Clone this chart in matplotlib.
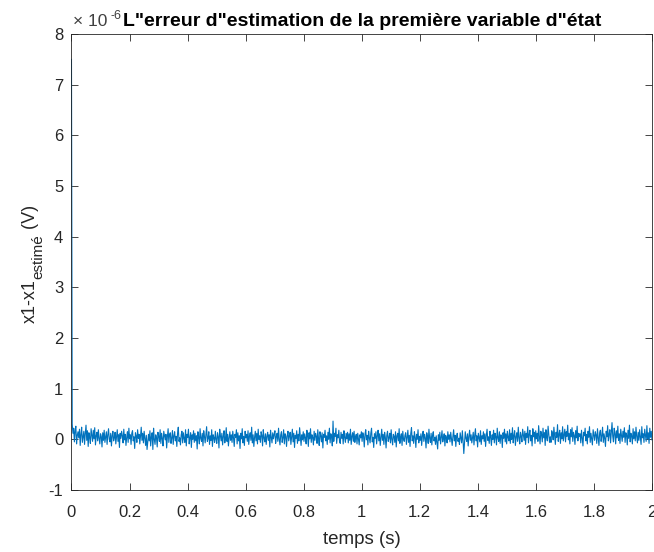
import numpy as np
import matplotlib
matplotlib.use('Agg')
import matplotlib.pyplot as plt
from matplotlib.ticker import FuncFormatter

# estimation error samples, in units of 1e-8 V (t from 0 to 2 s)
err_1e8 = [
    750, 30, 12, 22, -5, 18, 26, -9, 8, 15, 3, 20, -12, 10, 24, -6, 5, 16, -10, 12,
    28, -2, 17, -14, 13, 4, -8, 21, 9, -4, 18, 1, 23, -11, 7, 14, -3, 19, 2, -9,
    11, 6, -15, 13, -2, 18, -6, 4, 15, -10, 9, 21, 0, -5, 12, -13, 7, 16, -3, 3,
    14, -9, 6, 19, -4, 9, -16, 12, 2, 16, 7, -7, 20, -1, 10, -12, 4, 15, -6, 22,
    1, 9, -10, 12, 17, -3, 5, -18, 13, 7, -6, 19, 2, 10, -9, 6, 24, -2, 12, -7,
    16, 3, -12, 8, -20, -6, 10, -3, 17, -13, 5, 13, -20, 22, 0, -10, 9, 3, -15, 14,
    6, -4, 19, -8, 12, 2, -13, 16, 7, -1, 10, -17, 5, 21, -6, 9, 13, -8, 3, 17,
    -10, 7, 15, -3, 6, -14, 12, 24, -4, 3, -11, 9, 16, -7, 13, 2, -6, 19, -13, 10,
    4, 20, -9, 3, 13, -16, 9, 0, 17, -6, 12, -3, 7, -19, 15, 4, -9, 21, 2, -4,
    12, -13, 17, 6, -7, 10, 25, -4, 2, 15, -10, 7, -2, 19, -14, 9, 3, -6, 16, 0,
    -8, 13, 5, -17, 20, 7, -3, 12, -11, 6, 17, -7, 2, 23, -4, 10, -13, 3, 15, -2,
    9, -6, 16, 3, -14, 10, 4, 19, -9, 13, -3, 7, -18, 12, 1, 21, -7, 6, -12, 16,
    3, 10, -4, 17, -10, 6, 13, -2, 24, -7, 9, -14, 4, 16, -3, 12, -9, 20, 0, 7,
    -6, 15, 8, -13, 19, 3, -5, 11, -10, 6, 14, -2, 9, -15, 18, 4, -7, 13, 1, 10,
    17, -8, 5, 12, -4, 22, 0, -11, 9, 15, -6, 3, 19, -9, 11, 6, -14, 8, 16, -3,
    7, 14, -10, 4, 20, -5, 12, -16, 8, 2, 17, -8, 10, -3, 23, 5, -12, 9, -1, 15,
    -4, 11, 3, -9, 18, 7, -14, 13, 1, 21, -6, 9, 4, -11, 16, -2, 12, 6, -8, 19,
    2, -12, 15, 8, -5, 13, -17, 10, 4, 18, -3, 7, -10, 14, 0, 22, -7, 11, 5, -13,
    36, -4, 12, 6, 22, -8, 9, 3, 18, -5, -8, 14, 2, 10, -9, 17, 4, -6, 12, 1,
    14, -7, 11, -2, 20, -10, 6, 13, -4, 16, -6, 5, 10, -9, 12, 0, -11, 9, 3, 15,
    -4, 13, 6, -15, 10, 19, -1, 8, -11, 16, 3, -7, 12, 22, -5, 4, -16, 11, 2, 15,
    -9, 7, 18, -3, 11, -12, 5, 20, -2, 10, -10, 14, 4, -17, 8, 16, -4, 3, 12, -7,
    19, 0, -11, 10, 6, -6, 15, -15, 7, 12, -3, 21, -8, 4, 11, -12, 16, 1, -4, 8,
    13, -10, 3, 18, -6, 8, -14, 12, 23, -3, 7, -8, 15, 4, -16, 10, 0, 19, -7, 6,
    -2, 11, -12, 7, 16, -4, 10, 3, -17, 13, 5, -8, 20, 2, -6, 12, -11, 8, 15, -3,
    4, -10, 7, -6, -19, 9, -2, 14, -9, 5, 17, -5, 2, 11, -13, 8, 4, -7, 15, 0,
    9, -5, 14, 1, -12, 6, 19, -3, 8, -14, 5, 12, -4, 2, -10, 13, 3, -7, 17, -3,
    -28, -8, 15, 2, -4, 11, -13, 6, 18, -2, 9, -7, 4, 14, -11, 8, 21, -3, 7, -15,
    12, 3, -5, 17, -10, 7, 1, 15, -4, 11, -14, 8, 20, -2, 5, -8, 16, 4, -12, 9,
    0, 18, -7, 12, 5, -11, 22, 3, -4, 15, -8, 9, 7, -16, 13, 2, 20, -5, 11, -9,
    16, 4, -3, 19, -8, 12, 0, 23, -7, 8, 17, -12, 5, 13, -4, 24, 3, -9, 14, 6,
    -5, 20, 9, -2, 16, -10, 12, 4, 25, -7, 10, 18, -3, 8, -13, 21, 5, 14, -8, 17,
    1, 12, -4, 27, 6, -9, 16, 10, -5, 22, 3, 13, -12, 19, 4, -3, 26, 9, -6, 5,
    -6, 17, 12, -1, 24, 8, -10, 14, 4, 29, -4, 10, 18, -8, 13, 1, 25, -3, 9, 20,
    -5, 15, 6, 28, -1, 12, -9, 19, 5, 23, -4, 14, 8, -10, 17, 3, 26, -3, 12, 6,
    11, -7, 18, 2, -13, 14, 7, 22, -3, 10, -9, 16, 4, 25, -6, 12, 1, -11, 19, 8,
    -2, 15, 9, -8, 21, 3, -12, 13, 18, -4, 7, 24, -6, 11, 2, -14, 16, 5, 27, -3,
    10, 19, -7, 14, 33, 6, -5, 22, 12, -9, 17, 3, 26, -2, 11, -8, 20, 7, -4, 16,
    4, 23, -6, 13, 9, -11, 18, 2, 28, -5, 12, 7, -9, 21, 1, 15, -3, 24, 6, -7,
    14, -2, 19, 5, -10, 25, 3, 11, -6, 20, 8, -4, 27, 1, 13, -8, 22, 4, 16, -1,
]

x_ticks = [0, 0.2, 0.4, 0.6, 0.8, 1, 1.2, 1.4, 1.6, 1.8, 2]
x_ticklabels = ['0', '0.2', '0.4', '0.6', '0.8', '1', '1.2', '1.4', '1.6', '1.8', '2']
y_ticks = [-1, 0, 1, 2, 3, 4, 5, 6, 7, 8]   # in units of 1e-6 V

err = np.array(err_1e8) * 1e-8
t = np.linspace(0, 2, len(err))

plt.rcParams['font.family'] = ['Liberation Sans', 'DejaVu Sans']
plt.rcParams['axes.unicode_minus'] = False

W, H = 654, 552
txt_col = '#262626'

fig = plt.figure(figsize=(W / 100, H / 100), dpi=100)
ax = fig.add_axes([0.1093, 0.1123, 0.8876, 0.826])
ax.plot(t, err, color='#0072BD', lw=0.8)

ax.set_xlim(0, 2)
ax.set_ylim(-1e-6, 8e-6)
ax.set_xticks(x_ticks)
ax.set_xticklabels(x_ticklabels)
ax.set_yticks([v * 1e-6 for v in y_ticks])
ax.yaxis.set_major_formatter(FuncFormatter(lambda v, p: '%g' % round(v * 1e6, 6)))

ax.tick_params(direction='in', top=True, right=True, labelsize=12,
               colors=txt_col, length=5, width=0.6)
ax.tick_params(axis='x', pad=11)
ax.tick_params(axis='y', pad=6)
for s in ax.spines.values():
    s.set_linewidth(0.6)
    s.set_color(txt_col)

# exponent label, MATLAB style
ax.annotate('\u00d7 10', xy=(0, 1), xycoords='axes fraction', xytext=(2, 8),
            textcoords='offset pixels', fontsize=12.5, color='#404040',
            ha='left', va='baseline')
ax.annotate('-6', xy=(0, 1), xycoords='axes fraction', xytext=(39, 15),
            textcoords='offset pixels', fontsize=9, color='#404040',
            ha='left', va='baseline')

ax.set_xlabel('temps (s)', fontsize=13.5, color=txt_col, labelpad=8)
ax.set_title('L"erreur d"estimation de la première variable d"état',
             fontsize=14, fontweight='bold', pad=6)

# y label with a MATLAB sized subscript, built from three rotated pieces
fig.canvas.draw()
rend = fig.canvas.get_renderer()
y0 = H - 323
kw = dict(rotation=90, rotation_mode='anchor', ha='left', va='baseline', color=txt_col)
t1 = fig.text(35 / W, y0 / H, 'x1-x1', fontsize=13, **kw)
y1 = t1.get_window_extent(rend).y1
t2 = fig.text(42 / W, y1 / H, 'estimé', fontsize=11, **kw)
y2 = t2.get_window_extent(rend).y1
fig.text(35 / W, y2 / H, ' (V)', fontsize=13, **kw)

fig.savefig('out.png', dpi=100)
